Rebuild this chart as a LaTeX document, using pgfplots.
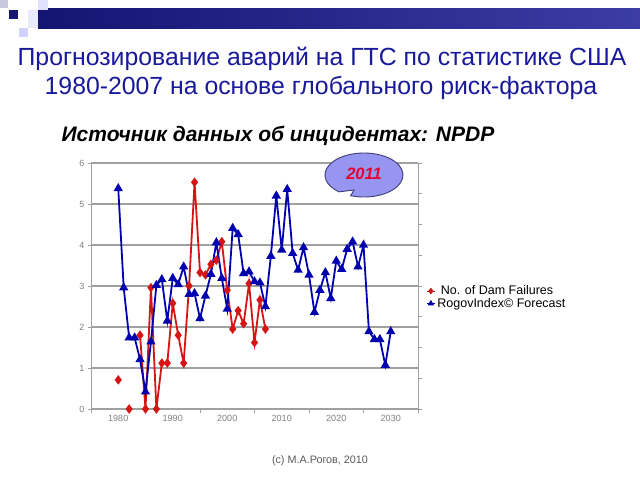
\documentclass[border=0pt]{standalone}
\usepackage{pgfplots}
\pgfplotsset{compat=1.18}
\usepackage{fontspec}
\setmainfont{Liberation Sans}
\definecolor{titleblue}{RGB}{25,25,155}
\definecolor{dred}{RGB}{215,20,20}
\definecolor{dblue}{RGB}{0,0,175}
\definecolor{gridgray}{RGB}{160,160,160}
\definecolor{callfill}{RGB}{150,150,240}
\definecolor{callborder}{RGB}{60,60,120}
\definecolor{callred}{RGB}{230,0,50}
\definecolor{barL}{RGB}{20,20,115}
\definecolor{barR}{RGB}{60,60,165}
\definecolor{sq1}{RGB}{200,200,225}
\pgfplotsset{shortleg/.style={legend image code/.code={\draw[##1, mark repeat=2, mark phase=2] plot coordinates {(0pt,0pt)(4pt,0pt)(8pt,0pt)};}}}

\begin{document}
\begin{tikzpicture}[x=1pt,y=1pt]
\useasboundingbox (0pt,-480pt) rectangle (640pt,0pt);
\fill[white] (0pt,-480pt) rectangle (640pt,0pt);
% header decoration
\shade[left color=barL, right color=barR] (38pt,-8pt) rectangle (640pt,-28pt);
\fill[sq1] (0pt,0pt) rectangle (8pt,-8pt);
\fill[white!70!blue!40] (38pt,0pt) rectangle (48pt,-10pt);
\fill[white!75!blue!35] (28pt,-10pt) rectangle (38pt,-28pt);
\fill[white!60!blue!45] (19pt,-28pt) rectangle (28pt,-37pt);
\fill[barL] (9pt,-10pt) rectangle (18pt,-19pt);

\begin{axis}[at={(91pt,-409pt)}, anchor=south west, scale only axis,
  width=327pt, height=246pt,
  xmin=1975, xmax=2035, ymin=0, ymax=6,
  xtick={1980,1990,...,2030}, minor xtick={1975,1985,...,2035},
  major x tick style={draw=none},
  ytick={0,...,6},
  ymajorgrids, grid style={gridgray, line width=1.1pt},
  axis x line*=bottom, axis y line*=left,
  axis line style={-, gridgray, line width=1pt},
  tick style={gridgray, line width=0.8pt}, tick align=outside,
  major tick length=3pt, minor tick length=4pt,
  tick label style={font=\fontsize{9}{10}\selectfont, text=gray},
  /pgf/number format/assume math mode=true,
  /pgf/number format/1000 sep={},
  unbounded coords=jump, clip=false,
  legend cell align=left,
  legend style={draw=none, fill=none, at={(1.025,0.51)}, anchor=north west,
    font=\fontsize{12.5}{12.5}\selectfont, inner sep=0pt, row sep=-2pt},
]
\addplot[dred, line width=1.8pt, mark=diamond*, mark size=3.3, forget plot] coordinates {
(1980,0.71) (1981,nan) (1982,0) (1983,nan) (1984,1.80) (1985,0) (1986,2.96) (1987,0)
(1988,1.12) (1989,1.12) (1990,2.58) (1991,1.80) (1992,1.12) (1993,3.00) (1994,5.53)
(1995,3.33) (1996,3.27) (1997,3.53) (1998,3.63) (1999,4.08) (2000,2.90) (2001,1.95)
(2002,2.40) (2003,2.08) (2004,3.06) (2005,1.62) (2006,2.66) (2007,1.95)};
\addplot[dblue, line width=1.8pt, mark=triangle*, mark size=3.6, forget plot] coordinates {
(1980,5.38) (1981,2.96) (1982,1.74) (1983,1.74) (1984,1.21) (1985,0.42) (1986,1.64)
(1987,3.02) (1988,3.16) (1989,2.15) (1990,3.19) (1991,3.04) (1992,3.47) (1993,2.80)
(1994,2.82) (1995,2.21) (1996,2.76) (1997,3.29) (1998,4.06) (1999,3.19) (2000,2.44)
(2001,4.41) (2002,4.26) (2003,3.31) (2004,3.35) (2005,3.11) (2006,3.08) (2007,2.50)
(2008,3.73) (2009,5.20) (2010,3.88) (2011,5.36) (2012,3.80) (2013,3.39) (2014,3.94)
(2015,3.27) (2016,2.36) (2017,2.90) (2018,3.33) (2019,2.70) (2020,3.61) (2021,3.41)
(2022,3.90) (2023,4.08) (2024,3.47) (2025,4.00) (2026,1.89) (2027,1.70) (2028,1.70)
(2029,1.07) (2030,1.89)};
\addlegendimage{dred, line width=1pt, mark=diamond*, mark size=2.6, shortleg}
\addlegendentry{\ No. of Dam Failures}
\addlegendimage{dblue, line width=1pt, mark=triangle*, mark size=2.8, shortleg}
\addlegendentry{RogovIndex© Forecast}
\end{axis}

\begin{axis}[at={(91pt,-409pt)}, anchor=south west, scale only axis,
  width=327pt, height=246pt,
  xmin=1975, xmax=2035, ymin=0, ymax=8, ytick={0,...,8}, yticklabels={},
  axis y line*=right, hide x axis,
  axis line style={-, gridgray, line width=1pt},
  tick style={gridgray, line width=0.8pt}, tick align=outside, major tick length=4pt]
\addplot[draw=none] coordinates {(1980,0)};
\end{axis}

% callout
\draw[fill=callfill, draw=callborder, line width=0.9pt]
  (364pt,-175pt) ++(250:39pt and 22pt) arc[start angle=250, end angle=590, x radius=39pt, y radius=22pt]
  -- (354pt,-190pt) -- cycle;
\node[text=callred, font=\fontsize{16.5}{16.5}\selectfont\bfseries\itshape] at (364pt,-174pt) {2011};

% titles
\node[anchor=base, text=titleblue, font=\fontsize{24.8}{24.8}\selectfont] at (322pt,-65pt)
  {Прогнозирование аварий на ГТС по статистике США};
\node[anchor=base, text=titleblue, font=\fontsize{24.8}{24.8}\selectfont] at (321pt,-94pt)
  {1980-2007 на основе глобального риск-фактора};
\node[anchor=base, font=\fontsize{21}{21}\selectfont\bfseries\itshape] at (278pt,-141pt)
  {Источник данных об инцидентах: NPDP};
\node[anchor=base, text=black!65, font=\fontsize{10.8}{10.8}\selectfont] at (320pt,-463pt)
  {(c) M.A.Рогов, 2010};
\end{tikzpicture}
\end{document}
